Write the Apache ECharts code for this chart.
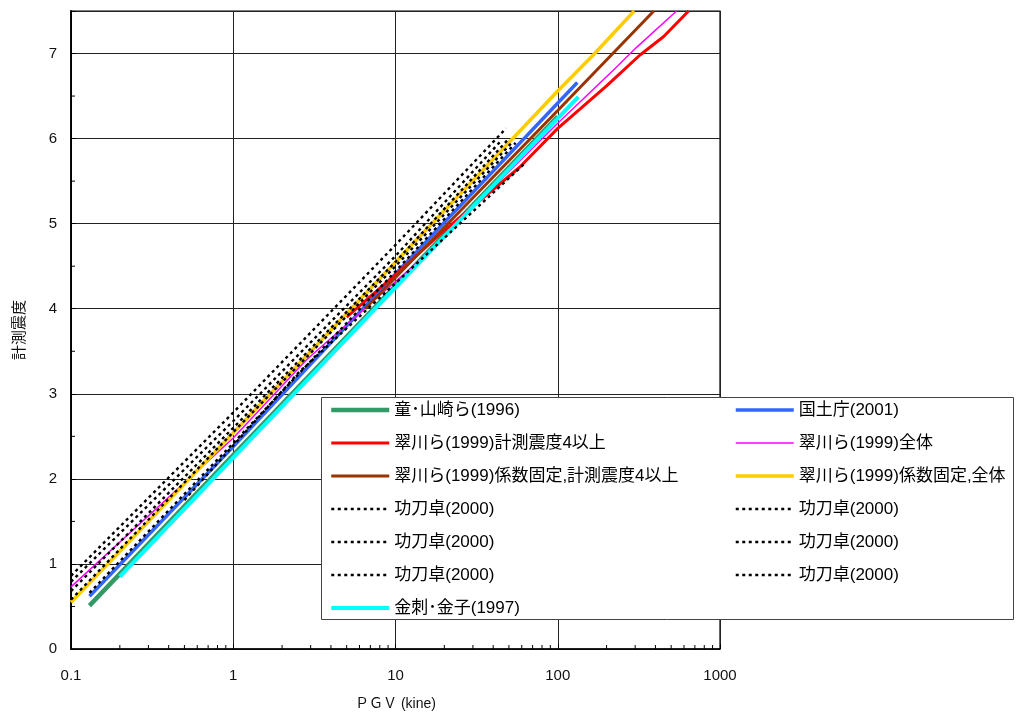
<!DOCTYPE html>
<html>
<head>
<meta charset="utf-8">
<script src="https://cdn.jsdelivr.net/npm/echarts@6/dist/echarts.min.js"></script>
<style>
html,body{margin:0;padding:0;background:#fff;}
#chart{width:1016px;height:713px;}
</style>
</head>
<body>
<div id="chart"></div>
<script>
// ---- data (PGV [kine], 計測震度) ----
const xTicks = [0.1, 1, 10, 100, 1000];
const yTicks = [0, 1, 2, 3, 4, 5, 6, 7];
const xMinorTicks = [0.2,0.3,0.4,0.5,0.6,0.7,0.8,0.9, 2,3,4,5,6,7,8,9, 20,30,40,50,60,70,80,90, 200,300,400,500,600,700,800,900];
const yMinorTicks = [0.5,1.5,2.5,3.5,4.5,5.5,6.5];

const tongYamazaki = [[0.13,0.51],[1,2.28],[10,4.27],[100,6.26]];
const kokudo = [[0.13,0.62],[1,2.38],[10,4.41],[132,6.66]];
const midori4 = [[5,3.9],[10,4.4],[20,4.92],[58,5.66],[100,6.12],[200,6.62],[320,6.98],[450,7.2],[640,7.5]];
const midoriAll = [[0.1,0.73],[1,2.48],[2.83,3.4],[14.1,4.57],[100,6.18],[219,6.8],[305,7.07],[540,7.5]];
const midoriFix4 = [[6.5,4.0],[100,6.33],[391,7.5]];
const midoriFixAll = [[0.1,0.55],[1,2.54],[33,5.59],[100,6.56],[165,6.98],[296,7.5]];
const kunugi1 = [[0.1,0.86],[1,2.78],[10,4.75],[48,6.12]];
const kunugi2 = [[0.1,0.79],[1,2.68],[10,4.62],[45,5.98]];
const kunugi3 = [[0.1,0.68],[1,2.6],[10,4.55],[50,6.0]];
const kunugi4 = [[0.1,0.58],[1,2.55],[10,4.5],[52,5.95]];
const kunugi5 = [[0.13,0.66],[1,2.42],[10,4.44],[55,5.95]];
const kunugi6 = [[0.5,1.75],[2.5,3.24],[10,4.3],[62,5.7]];
const kanazashi = [[0.2,0.85],[1,2.25],[10,4.25],[134,6.49]];

const names = {
  tong: '童･山崎ら(1996)',
  kokudo: '国土庁(2001)',
  m4: '翠川ら(1999)計測震度4以上',
  mAll: '翠川ら(1999)全体',
  mf4: '翠川ら(1999)係数固定,計測震度4以上',
  mfAll: '翠川ら(1999)係数固定,全体',
  k: '功刀卓(2000)',
  kana: '金刺･金子(1997)'
};

const FONT = "'Liberation Sans','Noto Sans CJK JP',sans-serif";

function solid(name, data, color, width) {
  return {type:'line', name, data, symbol:'none', smooth:false, z:2,
    lineStyle:{color, width, type:'solid'}, itemStyle:{color}};
}
function dotted(name, data) {
  return {type:'line', name, data, symbol:'none', z:3,
    lineStyle:{color:'#000', width:2.4, type:[3,3.5]}, itemStyle:{color:'#000'}};
}

const chart = echarts.init(document.getElementById('chart'));
const legendText = {fontSize:17, color:'#000', fontFamily:FONT, lineHeight:20};
const legendCommon = {
  z:10, orient:'vertical', top:400, itemWidth:58, itemHeight:20, itemGap:13, padding:0,
  selectedMode:false, textStyle:legendText, itemStyle:{opacity:0},
  lineStyle:{width:'inherit', type:'inherit', color:'inherit'},
  formatter:n => n.replace(/#\d$/, '')
};

chart.setOption({
  animation:false,
  textStyle:{fontFamily:FONT},
  grid:{left:71, top:11, width:649, height:638, show:true, borderColor:'#000', borderWidth:1.2,
    backgroundColor:'transparent', outerBoundsMode:'none', containLabel:false},
  xAxis:{
    type:'log', logBase:10, min:0.1, max:1000,
    name:'ＰＧＶ (kine)', nameLocation:'middle', nameGap:48,
    nameTextStyle:{fontSize:14, color:'#111', fontFamily:FONT},
    axisLine:{show:true, lineStyle:{color:'#000', width:1.5}},
    axisTick:{show:true, inside:true, length:5, lineStyle:{color:'#000'}},
    minorTick:{show:false},
    splitLine:{show:true, lineStyle:{color:'#222', width:1}},
    axisLabel:{fontSize:15, color:'#111', margin:19,
      formatter:v => xTicks.some(t => Math.abs(t - v) / t < 1e-6) ? String(+(+v).toPrecision(6)) : ''}
  },
  yAxis:{
    type:'value', min:0, max:7.5, interval:1,
    name:'計測震度', nameLocation:'middle', nameGap:44, nameRotate:90,
    nameTextStyle:{fontSize:15, color:'#111', fontFamily:FONT},
    axisLine:{show:true, lineStyle:{color:'#000', width:1.8}},
    axisTick:{show:true, inside:true, length:5, lineStyle:{color:'#000'}},
    splitLine:{show:true, lineStyle:{color:'#222', width:1}},
    axisLabel:{fontSize:15, color:'#111', margin:14,
      formatter:v => yTicks.includes(v) ? String(v) : ''}
  },
  graphic:[{
    type:'rect', z:5, zlevel:0,
    shape:{x:321.5, y:397.5, width:692, height:222},
    style:{fill:'#fff', stroke:'#444', lineWidth:1}
  }],
  legend:[
    Object.assign({}, legendCommon, {left:329,
      data:[names.tong, names.m4, names.mf4, names.k+'#1', names.k+'#3', names.k+'#5', names.kana]}),
    Object.assign({}, legendCommon, {left:734,
      data:[names.kokudo, names.mAll, names.mfAll, names.k+'#2', names.k+'#4', names.k+'#6']})
  ],
  series:[
    solid(names.tong, tongYamazaki, '#339966', 4.5),
    solid(names.kokudo, kokudo, '#3366FF', 3.5),
    solid(names.m4, midori4, '#FF0000', 3),
    solid(names.mAll, midoriAll, '#FF00FF', 1.5),
    solid(names.mf4, midoriFix4, '#993300', 3),
    solid(names.mfAll, midoriFixAll, '#FFCC00', 3.5),
    dotted(names.k+'#1', kunugi1),
    dotted(names.k+'#2', kunugi2),
    dotted(names.k+'#3', kunugi3),
    dotted(names.k+'#4', kunugi4),
    dotted(names.k+'#5', kunugi5),
    dotted(names.k+'#6', kunugi6),
    solid(names.kana, kanazashi, '#00FFFF', 4),
    {
      type:'custom', name:'xminor', silent:true, z:4, clip:false,
      data:xMinorTicks.map(v => [v, 0]),
      renderItem:(params, api) => {
        const p = api.coord([api.value(0), 0]);
        return {type:'line', shape:{x1:p[0], y1:p[1], x2:p[0], y2:p[1]-4}, style:{stroke:'#000', lineWidth:1}};
      }
    },
    {
      type:'custom', name:'yminor', silent:true, z:4, clip:false,
      data:yMinorTicks.map(v => [0.1, v]),
      renderItem:(params, api) => {
        const p = api.coord([0.1, api.value(1)]);
        return {type:'line', shape:{x1:p[0], y1:p[1], x2:p[0]+4, y2:p[1]}, style:{stroke:'#000', lineWidth:1}};
      }
    }
  ]
});
</script>
</body>
</html>
